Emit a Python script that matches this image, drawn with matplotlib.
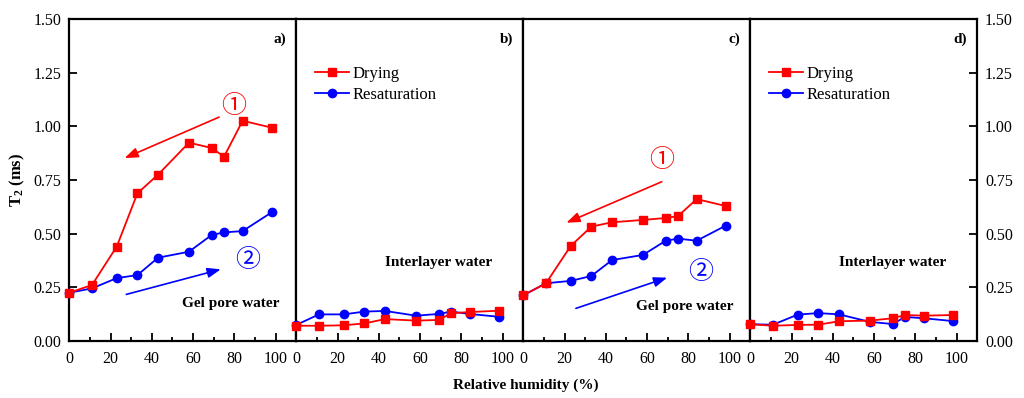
import matplotlib
matplotlib.use("Agg")
import matplotlib.pyplot as plt
from matplotlib.ticker import MultipleLocator

plt.rcParams['font.family'] = ['Liberation Serif', 'DejaVu Serif']
plt.rcParams['mathtext.fontset'] = 'custom'
plt.rcParams['mathtext.rm'] = 'Liberation Serif'
plt.rcParams['mathtext.bf'] = 'Liberation Serif:bold'

# relative humidity of the salt solutions (%)
rh = [0, 11, 23, 33, 43, 58, 69, 75, 84, 98]

# T2 (ms), gel pore water and interlayer water, two samples
dry_a = [0.225, 0.261, 0.44, 0.688, 0.775, 0.924, 0.899, 0.859, 1.026, 0.994]
res_a = [0.225, 0.245, 0.293, 0.307, 0.388, 0.416, 0.494, 0.506, 0.512, 0.599]
dry_b = [0.071, 0.071, 0.073, 0.082, 0.102, 0.095, 0.098, 0.129, 0.135, 0.141]
res_b = [0.075, 0.124, 0.124, 0.137, 0.140, 0.118, 0.126, 0.137, 0.126, 0.113]
dry_c = [0.213, 0.269, 0.443, 0.533, 0.553, 0.564, 0.573, 0.582, 0.661, 0.629]
res_c = [0.213, 0.269, 0.280, 0.303, 0.377, 0.401, 0.467, 0.477, 0.467, 0.537]
dry_d = [0.078, 0.071, 0.075, 0.076, 0.092, 0.095, 0.106, 0.121, 0.118, 0.121]
res_d = [0.078, 0.076, 0.123, 0.130, 0.124, 0.089, 0.079, 0.112, 0.106, 0.093]

panel_labels = ['a)', 'b)', 'c)', 'd)']
drying = [dry_a, dry_b, dry_c, dry_d]
resat = [res_a, res_b, res_c, res_d]

fig = plt.figure(figsize=(10.24, 3.98), dpi=100)
left, width = 69.3 / 1024, 227 / 1024
bottom, height = 57 / 398, 322 / 398

axes = []
for i in range(4):
    ax = fig.add_axes([left + i * width, bottom, width, height])
    axes.append(ax)
    ax.plot(rh, drying[i], color='#ff0000', marker='s', ms=5.5, lw=1.3,
            label='Drying', clip_on=False, zorder=4)
    ax.plot(rh, resat[i], color='#0000ff', marker='o', ms=6, lw=1.3,
            label='Resaturation', clip_on=False, zorder=3)
    ax.set_xlim(0, 110)
    ax.set_ylim(0, 1.5)
    ax.xaxis.set_major_locator(MultipleLocator(20))
    ax.xaxis.set_minor_locator(MultipleLocator(10))
    ax.yaxis.set_major_locator(MultipleLocator(0.25))
    ax.tick_params(axis='x', which='major', direction='in', length=6,
                   width=1.3, labelsize=11.5, pad=7.5, top=False)
    ax.tick_params(axis='x', which='minor', direction='in', length=3,
                   width=1.3, top=False)
    ax.tick_params(axis='y', direction='in', length=6, width=1.3,
                   labelsize=11.5, pad=5.5, left=False, right=False,
                   labelleft=False, labelright=False)
    for s in ax.spines.values():
        s.set_linewidth(1.6)
    ax.text(105, 1.405, panel_labels[i], ha='right', va='center',
            fontsize=11, fontweight='bold')

axes[0].tick_params(axis='y', left=True, labelleft=True)
axes[0].yaxis.set_major_formatter(lambda v, p: f"{v:.2f}")
axes[3].tick_params(axis='y', right=True, labelright=True)
axes[3].yaxis.set_major_formatter(lambda v, p: f"{v:.2f}")

axes[0].set_ylabel(r'$\mathbf{T_2}$ (ms)', fontsize=12, fontweight='bold',
                   labelpad=5)
fig.text(526 / 1024, 1 - 385 / 398, 'Relative humidity (%)', ha='center',
         va='center', fontsize=11, fontweight='bold')

# legends in the interlayer panels
for ax in (axes[1], axes[3]):
    ax.legend(loc='upper left', bbox_to_anchor=(0.055, 0.875), frameon=False,
              fontsize=12, handlelength=2.0, handletextpad=0.25,
              labelspacing=0.3, borderaxespad=0)
    ax.text(69, 0.365, 'Interlayer water', ha='center', va='center',
            fontsize=11, fontweight='bold')

circ = ['Noto Sans CJK SC', 'DejaVu Sans']
red_arrow = dict(arrowstyle='-|>,head_length=0.8,head_width=0.3',
                 color='#ff0000', lw=1.2, shrinkA=0, shrinkB=0)
blue_arrow = dict(arrowstyle='-|>,head_length=0.8,head_width=0.3',
                  color='#0000ff', lw=1.2, shrinkA=0, shrinkB=0)

# panel a annotations
ax = axes[0]
ax.annotate('', xy=(26.8, 0.852), xytext=(72.6, 1.043), arrowprops=red_arrow)
ax.annotate('', xy=(73.4, 0.334), xytext=(27.6, 0.217), arrowprops=blue_arrow)
ax.text(79.5, 1.095, '\u2460', color='#ff0000', fontsize=18, family=circ,
        ha='center', va='center')
ax.text(86.3, 0.377, '\u2461', color='#0000ff', fontsize=18, family=circ,
        ha='center', va='center')
ax.text(78.3, 0.175, 'Gel pore water', ha='center', va='center',
        fontsize=11, fontweight='bold')

# panel c annotations
ax = axes[2]
ax.annotate('', xy=(20.9, 0.551), xytext=(67.1, 0.742), arrowprops=red_arrow)
ax.annotate('', xy=(69.7, 0.295), xytext=(25.5, 0.152), arrowprops=blue_arrow)
ax.text(67, 0.843, '\u2460', color='#ff0000', fontsize=18, family=circ,
        ha='center', va='center')
ax.text(85.8, 0.323, '\u2461', color='#0000ff', fontsize=18, family=circ,
        ha='center', va='center')
ax.text(78.3, 0.163, 'Gel pore water', ha='center', va='center',
        fontsize=11, fontweight='bold')

fig.savefig('out.png', dpi=100)
